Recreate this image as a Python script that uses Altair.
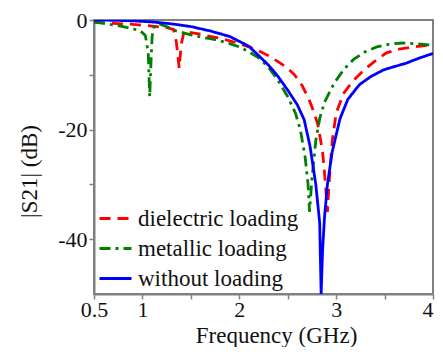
import altair as alt
import pandas as pd

series_names = ["dielectric loading", "metallic loading", "without loading"]
series_colors = ["#ff0000", "#008000", "#0000ff"]

# dielectric loading
f_diel = [0.5, 0.7, 0.9, 1.1, 1.25, 1.32, 1.35, 1.38, 1.40, 1.43, 1.5, 1.6, 1.7, 1.8, 1.9, 2.0,
          2.1, 2.2, 2.3, 2.4, 2.5, 2.57, 2.65, 2.72, 2.77, 2.81, 2.86, 2.89, 2.91, 2.93, 2.96,
          3.0, 3.08, 3.18, 3.29, 3.4, 3.52, 3.65, 3.8, 3.9, 4.0]
s_diel = [-0.4, -0.6, -0.8, -1.1, -1.4, -1.7, -4.0, -8.8, -4.5, -2.1, -2.3, -2.6, -3.0, -3.3, -3.8, -4.3,
          -4.9, -5.6, -6.5, -7.6, -8.8, -10.0, -12.0, -14.5, -16.8, -19.0, -24.0, -30.0, -35.0, -29.0, -22.0,
          -17.0, -13.3, -11.0, -9.1, -7.5, -6.0, -5.3, -4.9, -4.7, -4.5]

# metallic loading
f_metal = [0.5, 0.6, 0.7, 0.8, 0.9, 0.98, 1.03, 1.06, 1.075, 1.09, 1.1, 1.12, 1.17, 1.25, 1.35,
           1.5, 1.6, 1.7, 1.8, 1.9, 2.0, 2.1, 2.2, 2.3, 2.4, 2.5, 2.58, 2.63, 2.68, 2.71, 2.725,
           2.75, 2.79, 2.83, 2.88, 2.98, 3.08, 3.18, 3.3, 3.42, 3.55, 3.69, 3.8, 3.93, 4.0]
s_metal = [-0.4, -0.6, -0.9, -1.2, -1.6, -2.0, -2.8, -6.0, -14.0, -7.0, -3.0, -1.2, -0.7, -1.2, -2.0,
           -2.7, -3.1, -3.4, -3.8, -4.3, -4.9, -5.8, -6.9, -8.6, -11.0, -14.0, -17.0, -20.0, -25.0, -30.0, -35.0,
           -29.0, -22.0, -18.0, -15.0, -11.5, -9.0, -7.2, -5.8, -4.9, -4.4, -4.2, -4.3, -4.5, -4.6]

# without loading
f_none = [0.5, 0.7, 0.9, 1.1, 1.3, 1.5, 1.7, 1.9, 2.1, 2.2, 2.3, 2.4, 2.5, 2.6, 2.67, 2.73, 2.79,
          2.83, 2.845, 2.86, 2.88, 2.91, 2.96, 3.04, 3.12, 3.24, 3.36, 3.49, 3.6, 3.72, 3.85, 4.0]
s_none = [0.0, -0.05, -0.15, -0.35, -0.7, -1.2, -2.0, -3.0, -4.8, -6.5, -8.2, -10.3, -12.8, -15.5, -18.2, -23.0, -30.0,
          -37.0, -50.0, -42.0, -36.0, -30.0, -24.0, -18.0, -14.5, -11.8, -10.3, -9.1, -8.5, -7.9, -7.0, -6.1]

x_ticks = [0.5, 1, 1.5, 2, 2.5, 3, 3.5, 4]
y_ticks = [0, -10, -20, -30, -40]

rows = []
for order, (name, fs, ss) in enumerate([(series_names[0], f_diel, s_diel),
                                        (series_names[1], f_metal, s_metal),
                                        (series_names[2], f_none, s_none)]):
    for i, (f, s) in enumerate(zip(fs, ss)):
        rows.append({"series": name, "f": f, "s21": s, "i": i, "o": order})
df = pd.DataFrame(rows)

FONT = "Liberation Serif, Times New Roman, DejaVu Serif, serif"

legend_kw = dict(title=None, orient="none", legendX=4, legendY=181,
                 symbolType="stroke", symbolSize=1024, symbolStrokeWidth=3,
                 labelFontSize=23, labelFont=FONT, labelColor="#111111", labelLimit=320,
                 rowPadding=-3, padding=0, labelOffset=5)

chart = alt.Chart(df).mark_line(strokeWidth=2.8, clip=True).encode(
    x=alt.X("f:Q", scale=alt.Scale(domain=[0.5, 4], nice=False, zero=False),
            axis=alt.Axis(values=x_ticks, title="Frequency (GHz)",
                          labelExpr="(datum.value == 1.5 || datum.value == 2.5 || datum.value == 3.5) ? '' : toString(datum.value)",
                          labelAlign={"condition": {"test": "datum.value == 4", "value": "right"}, "value": "center"},
                          grid=False, tickSize=5, labelPadding=0, labelFlush=False,
                          titleX=182, titleY=48, titleBaseline="alphabetic")),
    y=alt.Y("s21:Q", scale=alt.Scale(domain=[-50, 0], nice=False),
            axis=alt.Axis(values=y_ticks, title="|S21| (dB)",
                          labelExpr="(datum.value % 20 == 0) ? toString(datum.value) : ''",
                          grid=False, tickSize=5, labelPadding=2, labelFlush=False,
                          titleX=-58, titleY=151, titleBaseline="alphabetic")),
    color=alt.Color("series:N", scale=alt.Scale(domain=series_names, range=series_colors),
                    legend=alt.Legend(**legend_kw)),
    strokeDash=alt.StrokeDash("series:N", scale=alt.Scale(domain=series_names,
                                                          range=[[11, 7], [11, 5, 3, 5], [1, 0]]),
                              legend=alt.Legend(**legend_kw)),
    order=alt.Order("i:Q"),
).properties(
    width=339, height=274,
    autosize=alt.AutoSizeParams(type="none"),
    padding={"left": 86, "top": 12, "right": 2, "bottom": 53},
).configure_axis(
    domainColor="#808080", domainWidth=2, tickColor="#808080", tickWidth=1.5,
    labelFont=FONT, labelFontSize=22, labelColor="#111111",
    titleFont=FONT, titleFontSize=23, titleFontWeight="normal", titleColor="#111111",
).configure_view(
    stroke="#808080", strokeWidth=2,
)

chart.save("out.html", embed_options={"renderer": "svg", "actions": False})
